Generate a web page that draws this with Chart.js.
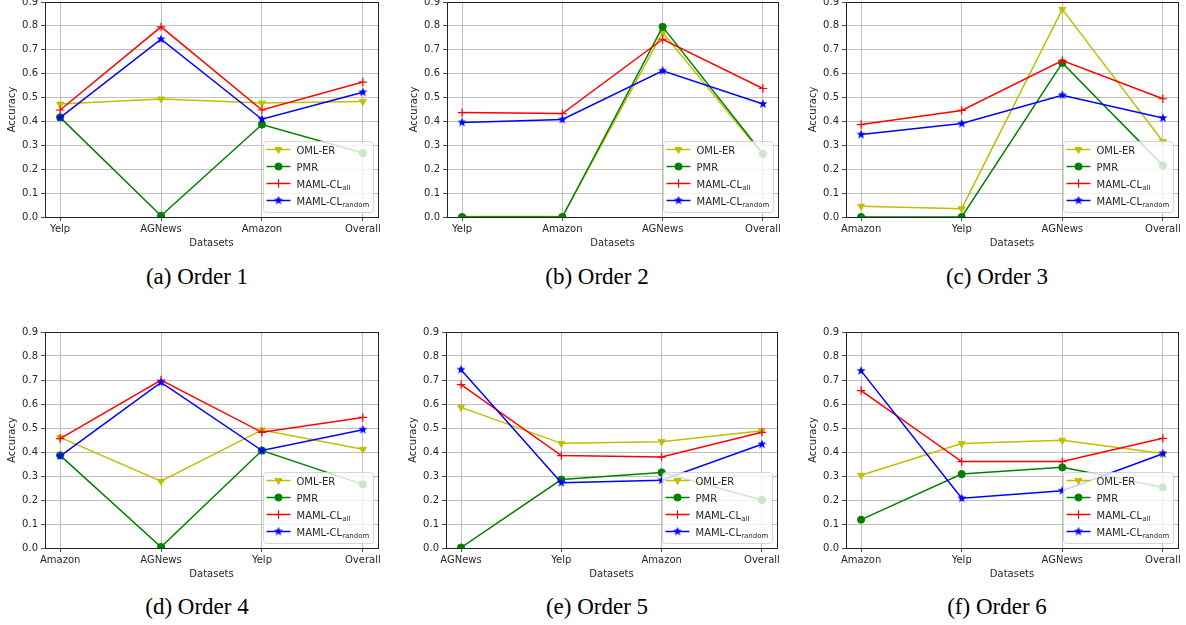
<!DOCTYPE html>
<html>
<head>
<meta charset="utf-8">
<script src="https://cdn.jsdelivr.net/npm/chart.js@4.4.1/dist/chart.umd.min.js"></script>
<style>
  html, body { margin: 0; padding: 0; background: #ffffff; }
  body { width: 1186px; height: 625px; position: relative; overflow: hidden; }
  canvas { position: absolute; }
  .cap { position: absolute; width: 300px; text-align: center; font-family: "Liberation Serif", "Times New Roman", serif; font-size: 23px; color: #000; line-height: 26px; }
</style>
</head>
<body>
<canvas id="c1"></canvas><canvas id="c2"></canvas><canvas id="c3"></canvas>
<canvas id="c4"></canvas><canvas id="c5"></canvas><canvas id="c6"></canvas>
<div class="cap" style="left:47px; top:264px;">(a) Order 1</div>
<div class="cap" style="left:447px; top:264px;">(b) Order 2</div>
<div class="cap" style="left:847px; top:264px;">(c) Order 3</div>
<div class="cap" style="left:47px; top:594px;">(d) Order 4</div>
<div class="cap" style="left:447px; top:594px;">(e) Order 5</div>
<div class="cap" style="left:847px; top:594px;">(f) Order 6</div>
<script>
// ---------------- DATA ----------------
const seriesNames = ['OML-ER', 'PMR', 'MAML-CL', 'MAML-CL'];
const seriesSubs  = ['', '', 'all', 'random'];
const yTickValues = [0, 0.1, 0.2, 0.3, 0.4, 0.5, 0.6, 0.7, 0.8, 0.9];
const xLabelText = 'Datasets';
const yLabelText = 'Accuracy';

const order1Categories = ['Yelp', 'AGNews', 'Amazon', 'Overall'];
const order1OmlEr      = [0.473, 0.494, 0.477, 0.483];
const order1Pmr        = [0.417, 0.005, 0.387, 0.268];
const order1MamlAll    = [0.448, 0.796, 0.448, 0.565];
const order1MamlRandom = [0.416, 0.744, 0.409, 0.522];

const order2Categories = ['Yelp', 'Amazon', 'AGNews', 'Overall'];
const order2OmlEr      = [0.002, 0.002, 0.772, 0.260];
const order2Pmr        = [0.000, 0.000, 0.796, 0.264];
const order2MamlAll    = [0.437, 0.433, 0.744, 0.538];
const order2MamlRandom = [0.396, 0.408, 0.612, 0.473];

const order3Categories = ['Amazon', 'Yelp', 'AGNews', 'Overall'];
const order3OmlEr      = [0.045, 0.035, 0.869, 0.316];
const order3Pmr        = [0.000, 0.000, 0.645, 0.216];
const order3MamlAll    = [0.387, 0.446, 0.655, 0.495];
const order3MamlRandom = [0.345, 0.391, 0.510, 0.414];

const order4Categories = ['Amazon', 'AGNews', 'Yelp', 'Overall'];
const order4OmlEr      = [0.461, 0.278, 0.492, 0.411];
const order4Pmr        = [0.386, 0.004, 0.406, 0.265];
const order4MamlAll    = [0.456, 0.700, 0.482, 0.544];
const order4MamlRandom = [0.383, 0.690, 0.406, 0.493];

const order5Categories = ['AGNews', 'Yelp', 'Amazon', 'Overall'];
const order5OmlEr      = [0.586, 0.436, 0.443, 0.489];
const order5Pmr        = [0.002, 0.285, 0.315, 0.200];
const order5MamlAll    = [0.681, 0.385, 0.379, 0.482];
const order5MamlRandom = [0.743, 0.272, 0.282, 0.432];

const order6Categories = ['Amazon', 'Yelp', 'AGNews', 'Overall'];
const order6OmlEr      = [0.303, 0.435, 0.449, 0.394];
const order6Pmr        = [0.118, 0.308, 0.336, 0.253];
const order6MamlAll    = [0.656, 0.360, 0.360, 0.457];
const order6MamlRandom = [0.738, 0.207, 0.239, 0.393];

// ---------------- STYLE ----------------
const colors = ['#bfbf00', '#008000', '#ff0000', '#0000ff'];
const TEXT = '#262626';
const FONT = '"DejaVu Sans", sans-serif';

function makeStar(color, r) {
  const s = Math.ceil(2 * r + 2);
  const c = document.createElement('canvas');
  c.width = s; c.height = s;
  const g = c.getContext('2d');
  g.fillStyle = color;
  g.beginPath();
  for (let i = 0; i < 10; i++) {
    const rr = i % 2 === 0 ? r : r * 0.42;
    const ang = -Math.PI / 2 + i * Math.PI / 5;
    const px = s / 2 + rr * Math.cos(ang), py = s / 2 + rr * Math.sin(ang);
    if (i === 0) g.moveTo(px, py); else g.lineTo(px, py);
  }
  g.closePath();
  g.fill();
  return c;
}
const starImg = makeStar(colors[3], 4.8);

const pointStyles   = ['triangle', 'circle', 'cross', starImg];
const pointRotation = [180, 0, 0, 0];
const pointRadius   = [4, 3.6, 4.2, 4.8];

const framePlugin = {
  id: 'frame',
  afterDatasetsDraw(chart) {
    const a = chart.chartArea, ctx = chart.ctx;
    ctx.save();
    ctx.strokeStyle = '#222';
    ctx.lineWidth = 1;
    ctx.strokeRect(Math.round(a.left) + 0.5, Math.round(a.top) + 0.5,
                   Math.round(a.right - a.left), Math.round(a.bottom - a.top));
    ctx.restore();
  }
};

const legendPlugin = {
  id: 'mplLegend',
  afterDraw(chart) {
    const a = chart.chartArea, ctx = chart.ctx;
    const w = 110, h = 71;
    const x = Math.round(a.right - 5 - w) + 0.5, y = Math.round(a.bottom - 5 - h) + 0.5;
    ctx.save();
    ctx.beginPath();
    if (ctx.roundRect) ctx.roundRect(x, y, w, h, 3); else ctx.rect(x, y, w, h);
    ctx.fillStyle = 'rgba(255,255,255,0.8)';
    ctx.fill();
    ctx.strokeStyle = 'rgba(204,204,204,0.8)';
    ctx.lineWidth = 1;
    ctx.stroke();
    chart.data.datasets.forEach((ds, i) => {
      const cy = y + 8 + i * 17;
      ctx.beginPath();
      ctx.strokeStyle = ds.borderColor;
      ctx.lineWidth = 1.5;
      ctx.moveTo(x + 3, cy);
      ctx.lineTo(x + 27, cy);
      ctx.stroke();
      ctx.fillStyle = ds.pointBackgroundColor;
      ctx.strokeStyle = ds.pointBorderColor;
      ctx.lineWidth = ds.pointBorderWidth;
      Chart.helpers.drawPoint(ctx, {
        pointStyle: ds.pointStyle, rotation: ds.pointRotation,
        radius: ds.pointRadius, borderWidth: ds.pointBorderWidth
      }, x + 15, cy);
      ctx.fillStyle = TEXT;
      ctx.textBaseline = 'alphabetic';
      ctx.textAlign = 'left';
      ctx.font = '10px ' + FONT;
      const tx = x + 33, ty = cy + 4;
      ctx.fillText(seriesNames[i], tx, ty);
      if (seriesSubs[i]) {
        const mw = ctx.measureText(seriesNames[i]).width;
        ctx.font = '7px ' + FONT;
        ctx.fillText(seriesSubs[i], tx + mw, ty + 2);
      }
    });
    ctx.restore();
  }
};

function buildChart(id, box, categories, seriesValues) {
  const cv = document.getElementById(id);
  cv.width = box.w; cv.height = box.h;
  cv.style.left = box.x + 'px'; cv.style.top = box.y + 'px';
  cv.style.width = box.w + 'px'; cv.style.height = box.h + 'px';
  const datasets = seriesValues.map((vals, i) => ({
    label: seriesNames[i] + seriesSubs[i],
    data: vals.map((v, k) => ({ x: k, y: v })),
    borderColor: colors[i],
    backgroundColor: colors[i],
    pointBackgroundColor: colors[i],
    pointBorderColor: colors[i],
    pointBorderWidth: i === 2 ? 1.2 : 1,
    borderWidth: 1.5,
    pointStyle: pointStyles[i],
    pointRotation: pointRotation[i],
    pointRadius: pointRadius[i],
    tension: 0,
    order: 3 - i
  }));
  return new Chart(cv, {
    type: 'line',
    data: { datasets },
    plugins: [framePlugin, legendPlugin],
    options: {
      responsive: false,
      animation: false,
      devicePixelRatio: 1,
      layout: { padding: { top: 12, right: box.w - 45 - box.pw, left: 0, bottom: 0 } },
      plugins: { legend: { display: false }, tooltip: { enabled: false } },
      scales: {
        x: {
          type: 'linear',
          min: -0.15, max: categories.length - 1 + 0.15,
          afterBuildTicks: (s) => { s.ticks = categories.map((c, k) => ({ value: k })); },
          afterFit: (s) => { s.height = 34; },
          ticks: {
            callback: (v) => categories[v],
            color: TEXT, font: { family: FONT, size: 10 }, padding: 2,
            maxRotation: 0, autoSkip: false
          },
          grid: { color: '#b0b0b0', lineWidth: 0.8, tickColor: '#222', tickLength: 4 },
          border: { display: true, color: '#222', width: 1 },
          title: { display: true, text: xLabelText, color: TEXT, font: { family: FONT, size: 10 }, padding: { top: 0, bottom: 2 } }
        },
        y: {
          min: 0, max: 0.9,
          afterBuildTicks: (s) => { s.ticks = yTickValues.map(v => ({ value: v })); },
          afterFit: (s) => { s.width = 45; },
          ticks: {
            callback: (v) => Number(v).toFixed(1),
            color: TEXT, font: { family: FONT, size: 10 }, padding: 3
          },
          grid: { color: '#b0b0b0', lineWidth: 0.8, tickColor: '#222', tickLength: 4 },
          border: { display: true, color: '#222', width: 1 },
          title: { display: true, text: yLabelText, color: TEXT, font: { family: FONT, size: 10 }, padding: { top: 6, bottom: 0 } }
        }
      }
    }
  });
}

// panel boxes: canvas x, y, w, h; pw = plot width
const topY = -10, topH = 261, botY = 320, botH = 262;
buildChart('c1', { x: 0,   y: topY, w: 390, h: topH, pw: 333 }, order1Categories, [order1OmlEr, order1Pmr, order1MamlAll, order1MamlRandom]);
buildChart('c2', { x: 402, y: topY, w: 390, h: topH, pw: 331 }, order2Categories, [order2OmlEr, order2Pmr, order2MamlAll, order2MamlRandom]);
buildChart('c3', { x: 801, y: topY, w: 385, h: topH, pw: 332 }, order3Categories, [order3OmlEr, order3Pmr, order3MamlAll, order3MamlRandom]);
buildChart('c4', { x: 0,   y: botY, w: 390, h: botH, pw: 333 }, order4Categories, [order4OmlEr, order4Pmr, order4MamlAll, order4MamlRandom]);
buildChart('c5', { x: 401, y: botY, w: 390, h: botH, pw: 331 }, order5Categories, [order5OmlEr, order5Pmr, order5MamlAll, order5MamlRandom]);
buildChart('c6', { x: 801, y: botY, w: 385, h: botH, pw: 332 }, order6Categories, [order6OmlEr, order6Pmr, order6MamlAll, order6MamlRandom]);
</script>
</body>
</html>
